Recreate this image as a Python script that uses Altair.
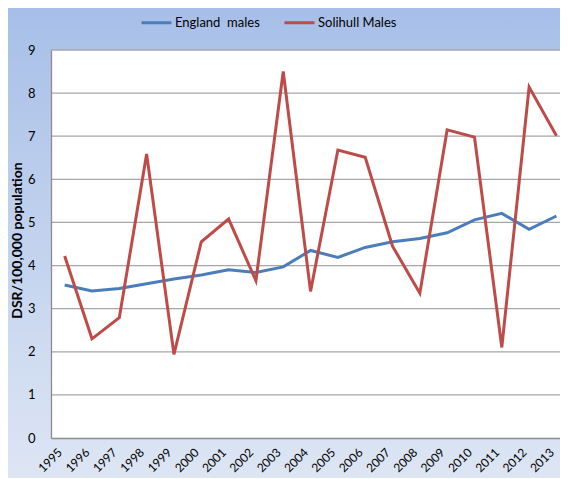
import altair as alt
import pandas as pd

years = list(range(1995, 2014))
england = [3.55, 3.41, 3.47, 3.58, 3.69, 3.78, 3.90, 3.84, 3.97, 4.35,
           4.19, 4.42, 4.55, 4.63, 4.76, 5.06, 5.21, 4.84, 5.15]
solihull = [4.22, 2.30, 2.79, 6.59, 1.94, 4.55, 5.08, 3.65, 8.50, 3.40,
            6.68, 6.51, 4.45, 3.36, 7.15, 6.98, 2.10, 8.14, 7.01]
series_names = ["England  males", "Solihull Males"]
series_colors = ["#4a7ebb", "#be4b48"]
y_ticks = list(range(0, 10))

df = pd.DataFrame({
    "Year": years * 2,
    "Value": england + solihull,
    "Series": [series_names[0]] * len(years) + [series_names[1]] * len(years),
})
grid_df = pd.DataFrame({"Value": y_ticks[1:]})

W, H = 509, 388
FONT = "Lato"

yscale = alt.Scale(domain=[0, 9], nice=False)
xscale = alt.Scale(domain=[1994.5, 2013.13], nice=False, zero=False)

bg = alt.Chart(alt.Data(values=[{}])).mark_rect(
    color=alt.Gradient(
        gradient="linear",
        stops=[alt.GradientStop(color="#a7bfe8", offset=0),
               alt.GradientStop(color="#dee6f4", offset=1)],
        x1=0, x2=0, y1=0, y2=1,
    )
).encode(x=alt.value(-43), x2=alt.value(W + 20), y=alt.value(-42), y2=alt.value(H + 45))

plot_bg = alt.Chart(alt.Data(values=[{}])).mark_rect(color="white").encode(
    x=alt.value(0), x2=alt.value(W + 20), y=alt.value(0), y2=alt.value(H)
)

grid = alt.Chart(grid_df).mark_rule(color="#a6a6a6", strokeWidth=1.3).encode(
    y=alt.Y("Value:Q", scale=yscale),
    x=alt.value(0), x2=alt.value(W + 20),
)

lines = alt.Chart(df).mark_line(strokeWidth=3).encode(
    x=alt.X("Year:Q", scale=xscale,
            axis=alt.Axis(values=years, format="d", title=None, grid=False, ticks=False,
                          labelAngle=-45, labelAlign="right", labelBaseline="bottom",
                          labelPadding=17, labelFontSize=12, labelFont=FONT,
                          labelColor="#000000", labelOverlap=False, zindex=1,
                          labelBound=False, labelFlush=False,
                          domainColor="#8c8c8c", domainWidth=1.3)),
    y=alt.Y("Value:Q", scale=yscale,
            axis=alt.Axis(values=y_ticks, title="DSR/100,000 population",
                          titleFont=FONT, titleFontSize=14, titleFontWeight="bold",
                          titleColor="#000000", titleX=-34, titleY=H / 2 - 4,
                          titleAngle=-90, titleAlign="center", titleBaseline="middle",
                          ticks=False, labelPadding=16, labelFontSize=13, labelFont=FONT,
                          labelColor="#000000", grid=False, zindex=1,
                          domainColor="#8c8c8c", domainWidth=1.3)),
    color=alt.Color("Series:N",
                    scale=alt.Scale(domain=series_names, range=series_colors),
                    legend=alt.Legend(title=None, orient="none", direction="horizontal",
                                      legendX=89, legendY=-44, padding=0,
                                      symbolType="stroke", symbolSize=900,
                                      symbolStrokeWidth=3, labelFont=FONT,
                                      labelFontSize=13, labelOffset=2,
                                      labelExpr="replace(datum.label, '  ', '\u00a0 ')",
                                      columnPadding=18, labelColor="#000000")),
)

chart = alt.layer(bg, plot_bg, grid, lines).properties(
    width=W, height=H,
    autosize=alt.AutoSizeParams(type="none"),
    padding={"left": 43, "top": 42, "right": 0, "bottom": 40},
).configure_view(stroke=None)

chart.save("out.html", embed_options={"renderer": "svg", "actions": False})
